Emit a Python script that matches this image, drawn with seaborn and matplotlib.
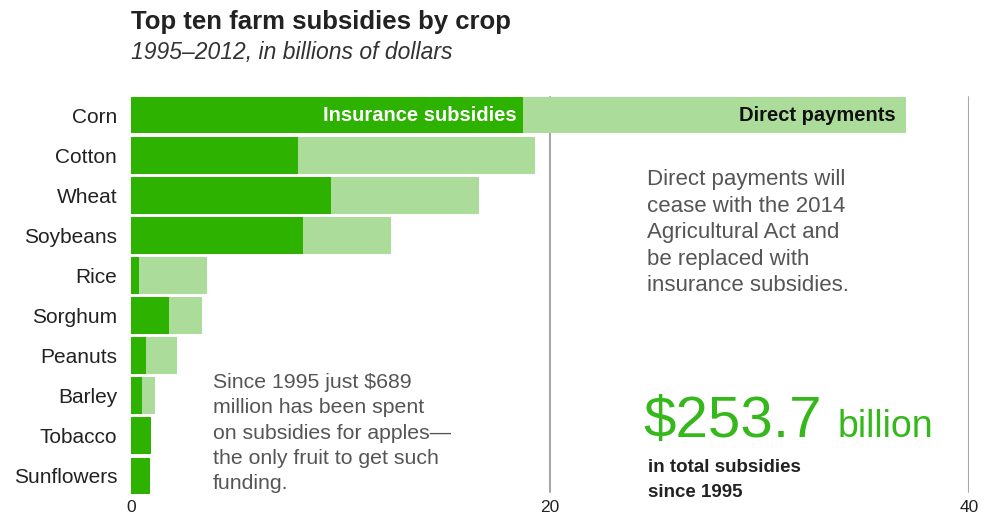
import matplotlib
matplotlib.use("Agg")
import matplotlib.pyplot as plt
import seaborn as sns
import pandas as pd

crops = ["Corn", "Cotton", "Wheat", "Soybeans", "Rice", "Sorghum",
         "Peanuts", "Barley", "Tobacco", "Sunflowers"]
insurance = [18.7, 7.95, 9.55, 8.2, 0.38, 1.8, 0.72, 0.53, 0.95, 0.9]
direct = [18.3, 11.35, 7.05, 4.2, 3.25, 1.6, 1.48, 0.62, 0.0, 0.0]
xticks = [0, 20, 40]

DARK = "#2db200"
LIGHT = "#acdc9a"
BIGGREEN = "#36b81c"

df = pd.DataFrame({"crop": crops, "insurance": insurance, "direct": direct})
df["total"] = df["insurance"] + df["direct"]

sns.set_style("white")
plt.rcParams["font.family"] = ["Liberation Sans", "DejaVu Sans"]

W, H = 984, 523
fig = plt.figure(figsize=(W / 100, H / 100), dpi=100)
ax = fig.add_axes([131 / W, 1 - 496 / H, (969 - 131) / W, (496 - 95) / H])

def fx(px):
    return px / W

def fy(py):
    return 1 - py / H

for v in xticks[1:]:
    ax.axvline(v, color="#a8a8a8", lw=1.5, zorder=0, ymin=0.01, ymax=0.995)

sns.barplot(data=df, y="crop", x="total", color=LIGHT, width=0.92,
            saturation=1, ax=ax, zorder=2, linewidth=0)
sns.barplot(data=df, y="crop", x="insurance", color=DARK, width=0.92,
            saturation=1, ax=ax, zorder=3, linewidth=0)

ax.set_xlim(0, 40)
ax.set_ylim(9.5, -0.5)
ax.set_xlabel("")
ax.set_ylabel("")
ax.set_xticks(xticks)
ax.set_xticklabels([str(t) for t in xticks], fontsize=12.5, color="#222222")
ax.tick_params(axis="x", length=0, pad=3)
ax.tick_params(axis="y", length=0, pad=10, labelsize=15, labelcolor="#222222")
for s in ax.spines.values():
    s.set_visible(False)

ax.text(df["insurance"][0] - 0.3, 0, "Insurance subsidies", color="white",
        ha="right", va="center", fontsize=14.5, fontweight="bold", zorder=5)
ax.text(df["total"][0] - 0.5, 0, "Direct payments", color="#111111",
        ha="right", va="center", fontsize=14.5, fontweight="bold", zorder=5)

fig.text(fx(131), fy(29), "Top ten farm subsidies by crop", fontsize=18.5,
         fontweight="bold", color="#222222", ha="left", va="baseline")
fig.text(fx(131), fy(59), "1995\u20132012, in billions of dollars", fontsize=16.5,
         style="italic", color="#333333", ha="left", va="baseline")

fig.text(fx(647), fy(169),
         "Direct payments will\ncease with the 2014\nAgricultural Act and\nbe replaced with\ninsurance subsidies.",
         fontsize=16, color="#555555", ha="left", va="top", linespacing=1.35)

fig.text(fx(213), fy(373),
         "Since 1995 just $689\nmillion has been spent\non subsidies for apples\u2014\nthe only fruit to get such\nfunding.",
         fontsize=15.3, color="#555555", ha="left", va="top", linespacing=1.42)

fig.text(fx(643), fy(437), "$253.7", fontsize=42, color=BIGGREEN,
         ha="left", va="baseline")
fig.text(fx(838), fy(437), "billion", fontsize=27, color=BIGGREEN,
         ha="left", va="baseline")
fig.text(fx(648), fy(459), "in total subsidies\nsince 1995", fontsize=13.5,
         fontweight="bold", color="#222222", ha="left", va="top", linespacing=1.6)

fig.savefig("out.png", dpi=100, facecolor="white")
